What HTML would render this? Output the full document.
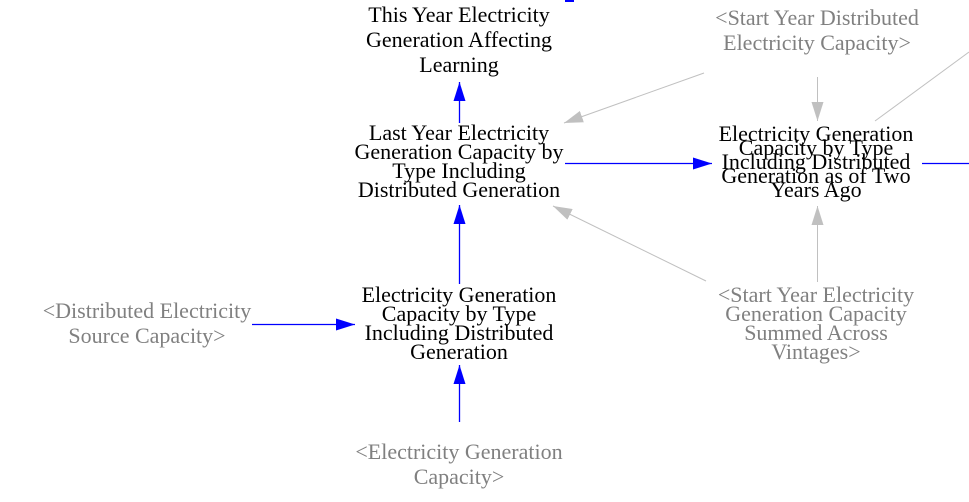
<!DOCTYPE html>
<html><head><meta charset="utf-8"><style>
html,body{margin:0;padding:0;background:#fff;}
svg{display:block;}
text{font-family:"Liberation Serif","Times New Roman",serif;font-size:22px;text-anchor:middle;}
.k{fill:#000}.g{fill:#808080}
</style></head><body>
<svg width="969" height="502" viewBox="0 0 969 502" xmlns="http://www.w3.org/2000/svg">
<defs>
<marker id="b" viewBox="0 0 10 10" preserveAspectRatio="none" refX="10" refY="5" markerWidth="19" markerHeight="12" markerUnits="userSpaceOnUse" orient="auto"><path d="M0,0L10,5L0,10z" fill="#0000ff"/></marker>
<marker id="gy" viewBox="0 0 10 10" preserveAspectRatio="none" refX="10" refY="5" markerWidth="19" markerHeight="12" markerUnits="userSpaceOnUse" orient="auto"><path d="M0,0L10,5L0,10z" fill="#c0c0c0"/></marker>
</defs>
<rect x="565" y="0" width="9" height="2" fill="#0000ff"/>
<g stroke="#0000ff" stroke-width="1.3" fill="none">
<line x1="459.5" y1="123" x2="459.5" y2="82" marker-end="url(#b)"/>
<line x1="565" y1="163.5" x2="712" y2="163.5" marker-end="url(#b)"/>
<line x1="922" y1="163.5" x2="969" y2="163.5"/>
<line x1="459.5" y1="284" x2="459.5" y2="205" marker-end="url(#b)"/>
<line x1="252" y1="324.5" x2="355" y2="324.5" marker-end="url(#b)"/>
<line x1="459.5" y1="422" x2="459.5" y2="365" marker-end="url(#b)"/>
</g>
<g stroke="#c0c0c0" stroke-width="1" fill="none">
<line x1="704" y1="73" x2="564" y2="123" marker-end="url(#gy)"/>
<line x1="817.5" y1="77" x2="817.5" y2="121" marker-end="url(#gy)"/>
<line x1="875" y1="121" x2="969" y2="52"/>
<line x1="706" y1="281" x2="553" y2="206" marker-end="url(#gy)"/>
<line x1="817.5" y1="282" x2="817.5" y2="206" marker-end="url(#gy)"/>
</g>

<text class="k" x="459" y="22">This Year Electricity</text>
<text class="k" x="459" y="47">Generation Affecting</text>
<text class="k" x="459" y="72">Learning</text>

<text class="k" x="459" y="140">Last Year Electricity</text>
<text class="k" x="459" y="159">Generation Capacity by</text>
<text class="k" x="459" y="178">Type Including</text>
<text class="k" x="459" y="197">Distributed Generation</text>

<text class="g" x="817" y="25">&lt;Start Year Distributed</text>
<text class="g" x="817" y="50">Electricity Capacity&gt;</text>

<text class="k" x="816" y="141">Electricity Generation</text>
<text class="k" x="816" y="155">Capacity by Type</text>
<text class="k" x="816" y="169">Including Distributed</text>
<text class="k" x="816" y="183">Generation as of Two</text>
<text class="k" x="816" y="197">Years Ago</text>

<text class="g" x="147" y="318">&lt;Distributed Electricity</text>
<text class="g" x="147" y="343">Source Capacity&gt;</text>

<text class="k" x="459" y="302">Electricity Generation</text>
<text class="k" x="459" y="321">Capacity by Type</text>
<text class="k" x="459" y="340">Including Distributed</text>
<text class="k" x="459" y="359">Generation</text>

<text class="g" x="816" y="302">&lt;Start Year Electricity</text>
<text class="g" x="816" y="321">Generation Capacity</text>
<text class="g" x="816" y="340">Summed Across</text>
<text class="g" x="816" y="359">Vintages&gt;</text>

<text class="g" x="459" y="459">&lt;Electricity Generation</text>
<text class="g" x="459" y="484">Capacity&gt;</text>
</svg>
</body></html>
